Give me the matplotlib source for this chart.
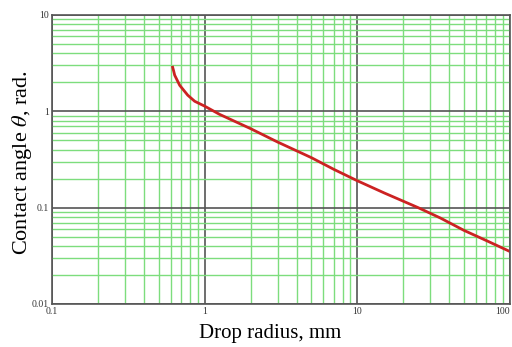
import matplotlib
matplotlib.use('Agg')
import matplotlib.pyplot as plt
from matplotlib.ticker import LogLocator, FixedLocator, FixedFormatter, NullFormatter

# data
radius = [0.617, 0.627, 0.636, 0.686, 0.774, 0.86, 1.0, 1.25, 2.0, 3.0, 5.0, 7.0,
          10, 15, 25, 35, 50, 70, 100]
angle = [2.86, 2.6, 2.37, 1.86, 1.47, 1.27, 1.13, 0.93, 0.66, 0.48, 0.33, 0.25,
         0.19, 0.142, 0.1, 0.078, 0.058, 0.0455, 0.035]

x_ticks = [0.1, 1, 10, 100]
x_labels = ['0.1', '1', '10', '100']
y_ticks = [0.01, 0.1, 1, 10]
y_labels = ['0.01', '0.1', '1', '10']

plt.rcParams['font.family'] = 'Liberation Serif'
plt.rcParams['mathtext.fontset'] = 'stix'

fig = plt.figure(figsize=(5.12, 3.47), dpi=100)
ax = fig.add_axes([0.1016, 0.124, 0.8945, 0.833])

ax.set_xscale('log')
ax.set_yscale('log')
ax.set_xlim(0.1, 100)
ax.set_ylim(0.01, 10)

ax.xaxis.set_major_locator(FixedLocator(x_ticks))
ax.xaxis.set_major_formatter(FixedFormatter(x_labels))
ax.yaxis.set_major_locator(FixedLocator(y_ticks))
ax.yaxis.set_major_formatter(FixedFormatter(y_labels))
ax.xaxis.set_minor_locator(LogLocator(base=10, subs=range(2, 10)))
ax.yaxis.set_minor_locator(LogLocator(base=10, subs=range(2, 10)))
ax.xaxis.set_minor_formatter(NullFormatter())
ax.yaxis.set_minor_formatter(NullFormatter())

# green minor grid, dark major grid
ax.grid(which='minor', color='#7ddd7d', linewidth=1.0)
ax.grid(which='major', color='#555555', linewidth=1.2)
ax.set_axisbelow(True)

ax.tick_params(which='both', length=0, labelsize=7, colors='#333333', pad=2)
for s in ax.spines.values():
    s.set_color('#555555')
    s.set_linewidth(1.2)

ax.plot(radius, angle, color='#cc2222', linewidth=2)

ax.set_xlabel('Drop radius, mm', fontsize=15)
ax.xaxis.set_label_coords(0.476, -0.07)
ax.set_ylabel(r'Contact angle $\theta$, rad.', fontsize=16)
ax.yaxis.set_label_coords(-0.04, 0.49)

fig.canvas.draw()
# keep the last x label inside the figure
ax.get_xticklabels()[-1].set_ha('right')

fig.savefig('out.png', dpi=100)
